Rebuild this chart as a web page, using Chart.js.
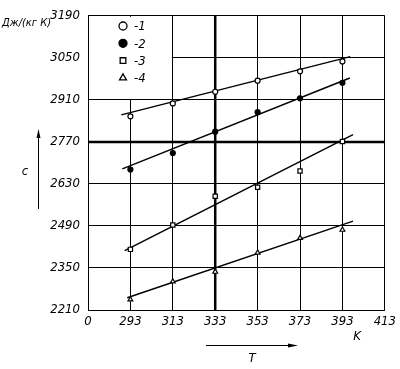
<!DOCTYPE html>
<html>
<head>
<meta charset="utf-8">
<script src="https://cdn.jsdelivr.net/npm/chart.js@4"></script>
<style>
  html, body { margin: 0; padding: 0; background: #fff; }
  #wrap { width: 400px; height: 369px; }
</style>
</head>
<body>
<div id="wrap"><canvas id="chart" width="400" height="369"></canvas></div>
<script>
// данные
var temps = [293, 313, 333, 353, 373, 393];
var series1 = [2855, 2898, 2937, 2974, 3005, 3038];
var series2 = [2678, 2733, 2804, 2869, 2915, 2967];
var series3 = [2412, 2493, 2589, 2619, 2673, 2771];
var series4 = [2245, 2305, 2337, 2401, 2450, 2477];

// концы аппроксимирующих прямых
var fitT = [[288.7, 396.7], [289.2, 396.5], [290.3, 398], [291.5, 398]];
var fitC = [[2860, 3054], [2680, 2983], [2408, 2794], [2251, 2506]];

var xTicks = [273, 293, 313, 333, 353, 373, 393, 413];
var yTicks = [2210, 2350, 2490, 2630, 2770, 2910, 3050, 3190];
var legendLabels = ['-1', '-2', '-3', '-4'];

var FONT = "'Liberation Sans Narrow', 'DejaVu Sans Condensed', sans-serif";

function toPoints(values) {
  return values.map(function(v, i) { return { x: temps[i], y: v }; });
}

function fitLine(i) {
  return {
    type: 'scatter',
    data: [{ x: fitT[i][0], y: fitC[i][0] }, { x: fitT[i][1], y: fitC[i][1] }],
    showLine: true,
    borderColor: '#000',
    borderWidth: 1.5,
    pointRadius: 0,
    order: 2
  };
}

function markers(values, style, filled, r) {
  return {
    type: 'scatter',
    data: toPoints(values),
    pointStyle: style,
    pointRadius: r,
    pointBackgroundColor: filled ? '#000' : '#fff',
    pointBorderColor: '#000',
    pointBorderWidth: 1.2,
    showLine: false,
    order: 1
  };
}

// белое поле под легендой, жирные линии и подписи вне осей
var decorPlugin = {
  id: 'decor',
  beforeDatasetsDraw: function(chart) {
    var ctx = chart.ctx;
    var xs = chart.scales.x, ys = chart.scales.y;
    var area = chart.chartArea;
    var l = xs.getPixelForValue(273), r = xs.getPixelForValue(313);
    var t = ys.getPixelForValue(3190), b = ys.getPixelForValue(2910);
    ctx.save();
    ctx.fillStyle = '#fff';
    ctx.fillRect(l + 1, t + 1, r - l - 2, b - t - 2);

    // выделенные линии 333 K и 2770
    var x333 = xs.getPixelForValue(333);
    var y2770 = ys.getPixelForValue(2770);
    ctx.strokeStyle = '#000';
    ctx.lineWidth = 2.5;
    ctx.beginPath();
    ctx.moveTo(x333, area.top);
    ctx.lineTo(x333, area.bottom);
    ctx.stroke();
    ctx.beginPath();
    ctx.moveTo(area.left, y2770);
    ctx.lineTo(area.right, y2770);
    ctx.stroke();
    ctx.beginPath();
    ctx.restore();
  },
  afterDraw: function(chart) {
    var ctx = chart.ctx;
    ctx.save();
    ctx.beginPath();
    ctx.fillStyle = '#000';
    ctx.strokeStyle = '#000';

    // легенда
    var styles = ['circle', 'circle', 'rect', 'triangle'];
    var fills = [false, true, false, false];
    for (var i = 0; i < 4; i++) {
      var y = 26 + i * 17.3;
      ctx.fillStyle = fills[i] ? '#000' : '#fff';
      ctx.strokeStyle = '#000';
      ctx.lineWidth = 1.3;
      Chart.helpers.drawPoint(ctx, { pointStyle: styles[i], radius: 4, rotation: 0, borderWidth: 1.3 }, 123, y);
      ctx.fillStyle = '#000';
      ctx.font = 'italic 13px ' + FONT;
      ctx.textAlign = 'left';
      ctx.textBaseline = 'middle';
      ctx.fillText(legendLabels[i], 134, y + 1);
    }

    // единицы измерения
    ctx.font = 'italic 11px ' + FONT;
    ctx.fillText('Дж/(кг К)', 2, 23);

    // обозначение c и стрелка
    ctx.font = 'italic 13px ' + FONT;
    ctx.textAlign = 'center';
    ctx.fillText('c', 25, 172);
    ctx.lineWidth = 1;
    ctx.beginPath();
    ctx.moveTo(38.5, 209);
    ctx.lineTo(38.5, 132);
    ctx.stroke();
    ctx.beginPath();
    ctx.moveTo(38.5, 129);
    ctx.lineTo(36.5, 138);
    ctx.lineTo(40.5, 138);
    ctx.closePath();
    ctx.fill();

    // обозначение T и стрелка
    ctx.beginPath();
    ctx.moveTo(206, 345.5);
    ctx.lineTo(292, 345.5);
    ctx.stroke();
    ctx.beginPath();
    ctx.moveTo(298, 345.5);
    ctx.lineTo(288, 343.5);
    ctx.lineTo(288, 347.5);
    ctx.closePath();
    ctx.fill();
    ctx.fillText('T', 252, 359);
    ctx.fillText('K', 357, 337);
    ctx.restore();
  }
};

var ctx = document.getElementById('chart').getContext('2d');
var chart = new Chart(ctx, {
  type: 'scatter',
  data: {
    datasets: [
      fitLine(0), fitLine(1), fitLine(2), fitLine(3),
      markers(series1, 'circle', false, 2.5),
      markers(series2, 'circle', true, 2.5),
      markers(series3, 'rect', false, 3),
      markers(series4, 'triangle', false, 2.8)
    ]
  },
  options: {
    responsive: false,
    animation: false,
    layout: { padding: { top: 10, right: 11, left: 0, bottom: 0 } },
    plugins: {
      legend: { display: false },
      tooltip: { enabled: false }
    },
    scales: {
      x: {
        type: 'linear',
        min: 273,
        max: 413,
        afterFit: function(scale) { scale.height = 59; },
        afterBuildTicks: function(scale) {
          scale.ticks = xTicks.map(function(v) { return { value: v }; });
        },
        ticks: {
          color: '#000',
          padding: 4,
          font: { family: FONT, size: 13, style: 'italic' },
          callback: function(v) { return v === 273 ? '0' : String(v); }
        },
        grid: { color: '#000', drawTicks: false, lineWidth: 1 },
        border: { color: '#000', width: 1 }
      },
      y: {
        type: 'linear',
        min: 2210,
        max: 3190,
        afterFit: function(scale) { scale.width = 88; },
        afterBuildTicks: function(scale) {
          scale.ticks = yTicks.map(function(v) { return { value: v }; });
        },
        ticks: {
          color: '#000',
          padding: 8,
          font: { family: FONT, size: 13, style: 'italic' },
          callback: function(v) { return String(v); }
        },
        grid: { color: '#000', drawTicks: false, lineWidth: 1 },
        border: { color: '#000', width: 1 }
      }
    }
  },
  plugins: [decorPlugin]
});
</script>
</body>
</html>
